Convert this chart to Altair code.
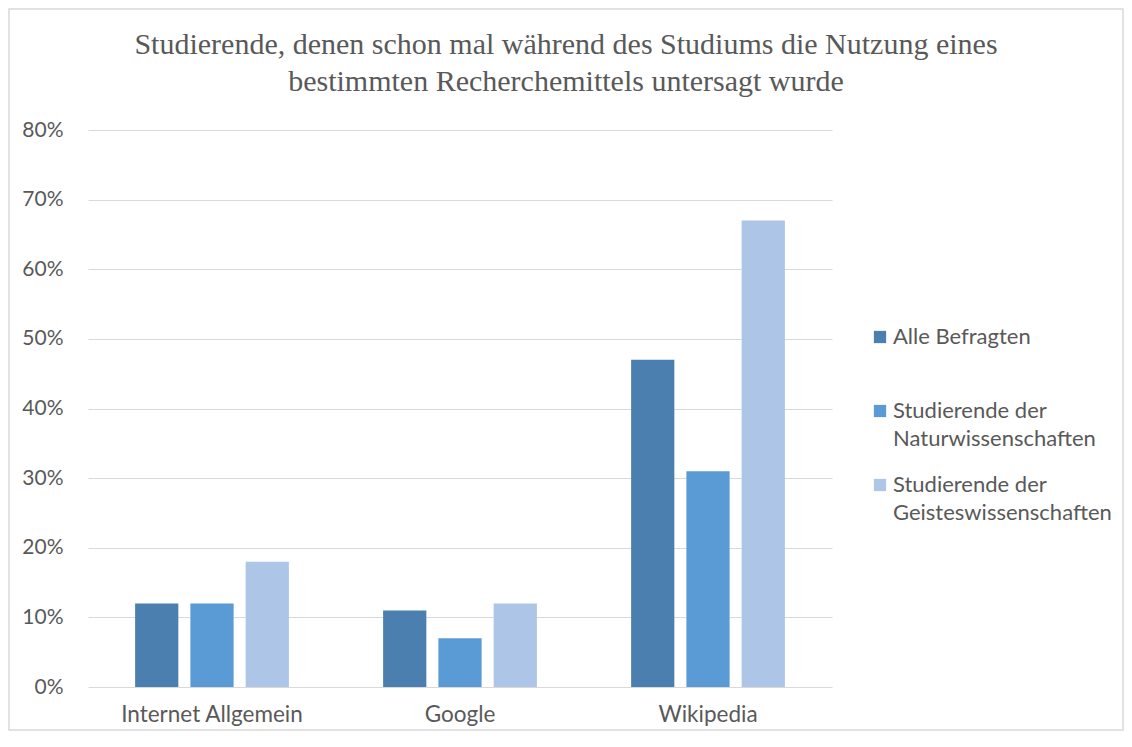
import altair as alt
import pandas as pd

categories = ["Internet Allgemein", "Google", "Wikipedia"]
series = ["Alle Befragten", "Studierende der Naturwissenschaften", "Studierende der Geisteswissenschaften"]
values = {
    "Alle Befragten": [0.12, 0.11, 0.47],
    "Studierende der Naturwissenschaften": [0.12, 0.07, 0.31],
    "Studierende der Geisteswissenschaften": [0.18, 0.12, 0.67],
}
colors = ["#4a7fb0", "#5b9bd5", "#adc5e7"]
y_ticks = [0, 0.1, 0.2, 0.3, 0.4, 0.5, 0.6, 0.7, 0.8]

rows = []
for s in series:
    for c, v in zip(categories, values[s]):
        rows.append({"Kategorie": c, "Gruppe": s, "Wert": v})
df = pd.DataFrame(rows)

TXT = "#595959"
FONT = "Lato"

bars = alt.Chart(df).mark_bar().encode(
    x=alt.X("Kategorie:N", sort=categories,
            scale=alt.Scale(paddingInner=0.38, paddingOuter=0.19),
            axis=alt.Axis(title=None, labelAngle=0, ticks=False, domain=False, labelLimit=400,
                          labelPadding=16, labelFontSize=22.5, labelColor=TXT, labelFont=FONT)),
    xOffset=alt.XOffset("Gruppe:N", sort=series,
                        scale=alt.Scale(paddingInner=0.218, paddingOuter=0)),
    y=alt.Y("Wert:Q", scale=alt.Scale(domain=[0, 0.8], nice=False),
            axis=alt.Axis(title=None, format=".0%", values=y_ticks, ticks=False, domain=False,
                          labelPadding=25, labelFontSize=21, labelColor=TXT, labelFont=FONT,
                          gridColor="#d9d9d9", gridWidth=1)),
    color=alt.Color("Gruppe:N", sort=series,
                    scale=alt.Scale(domain=series, range=colors),
                    legend=alt.Legend(title=None, orient="none", legendX=781, legendY=196,
                                      symbolType="square", symbolSize=150, symbolStrokeWidth=0,
                                      labelFontSize=22, labelColor=TXT, labelFont=FONT,
                                      labelLimit=400, rowPadding=24, labelOffset=2,
                                      gridAlign="all",
                                      labelExpr="indexof(datum.label,' der ')>0 ? [slice(datum.label,0,indexof(datum.label,' der ')+4), slice(datum.label,indexof(datum.label,' der ')+5)] : datum.label")),
)

border = alt.Chart(pd.DataFrame({"a": [0]})).mark_rect(
    fill=None, stroke="#d9d9d9", strokeWidth=1.5
).encode(x=alt.value(-79), x2=alt.value(1035), y=alt.value(-121), y2=alt.value(600))

chart = alt.layer(bars, border).properties(
    width=744, height=557,
    padding={"left": 80, "top": 122, "right": 292, "bottom": 45},
    autosize=alt.AutoSizeParams(type="none"),
    title=alt.TitleParams(
        text=["Studierende, denen schon mal während des Studiums die Nutzung eines",
              "bestimmten Recherchemittels untersagt wurde"],
        font="Liberation Serif", fontSize=30, fontWeight="normal", color=TXT,
        anchor="middle", frame="group", dx=106, offset=-89, lineHeight=37,
    ),
).configure(
    style={"guide-label": {"lineHeight": 28}}
).configure_view(stroke=None).configure_axisX(grid=False)

chart.save("out.html", embed_options={"renderer": "svg", "actions": False})
